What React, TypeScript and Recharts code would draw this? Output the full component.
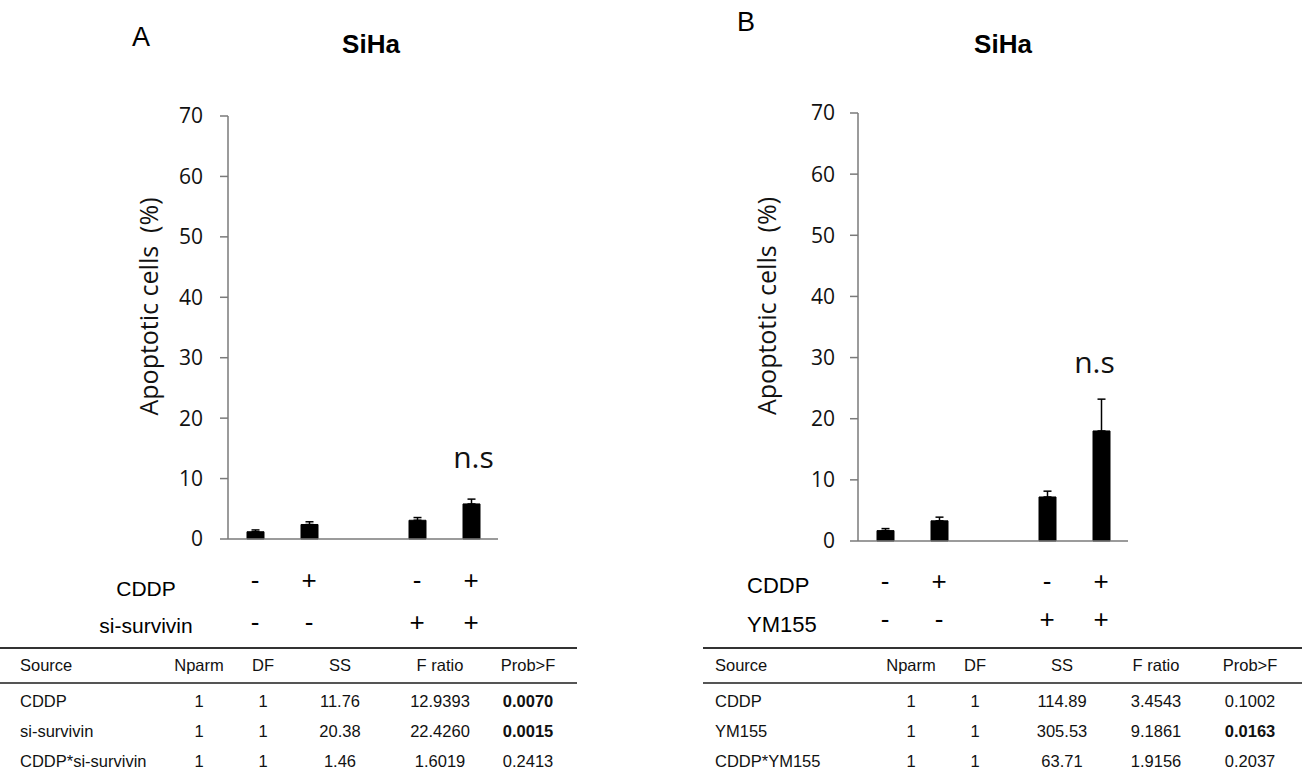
import { Bar, BarChart, ErrorBar, LabelList, XAxis, YAxis } from 'recharts'

// bar groups (third slot is the empty gap between the two pairs)
const categoriesA = ['Control', 'CDDP', '', 'si-survivin', 'CDDP + si-survivin']
const categoriesB = ['Control', 'CDDP', '', 'YM155', 'CDDP + YM155']

const yTicks = [0, 10, 20, 30, 40, 50, 60, 70]

// treatment signs under each bar
const cddpSigns = ['-', '+', '', '-', '+']
const agentSigns = ['-', '-', '', '+', '+']

// apoptotic cells (%), mean and upper error
const meansA = [1.2, 2.4, null, 3.1, 5.8]
const errorsA = [0.3, 0.45, null, 0.45, 0.8]
const meansB = [1.7, 3.3, null, 7.2, 18.0]
const errorsB = [0.33, 0.6, null, 0.95, 5.2]
const notes = ['', '', '', '', 'n.s']

// ANOVA tables
const tableHeader = ['Source', 'Nparm', 'DF', 'SS', 'F ratio', 'Prob>F']
const sourcesA = ['CDDP', 'si-survivin', 'CDDP*si-survivin']
const nparmA = ['1', '1', '1']
const dfA = ['1', '1', '1']
const ssA = ['11.76', '20.38', '1.46']
const fRatioA = ['12.9393', '22.4260', '1.6019']
const probA = ['0.0070', '0.0015', '0.2413']

const sourcesB = ['CDDP', 'YM155', 'CDDP*YM155']
const nparmB = ['1', '1', '1']
const dfB = ['1', '1', '1']
const ssB = ['114.89', '305.53', '63.71']
const fRatioB = ['3.4543', '9.1861', '1.9156']
const probB = ['0.1002', '0.0163', '0.2037']

const AXIS = '#7a7a7a'
const TICK_FONT = "'Open Sans', sans-serif"
const ARIAL = "'Liberation Sans', Arial, sans-serif"

type PanelProps = {
  left: number
  top: number
  height: number
  marginTop: number
  categories: string[]
  means: (number | null)[]
  errors: (number | null)[]
  tickGap: number
  labelX: number
  noteDx: number
  noteGap: number
  signRows: [number, number]
}

function Panel(p: PanelProps) {
  const data = p.categories.map((name, i) => ({
    name,
    mean: p.means[i],
    err: p.errors[i] == null ? null : [0, p.errors[i]],
    note: notes[i],
  }))

  const signTick = (props: any) => {
    const { x, y, index } = props
    return (
      <g fontFamily={ARIAL} fontSize={26} fill='#000' textAnchor='middle'>
        <text x={x} y={y + p.signRows[0]}>{cddpSigns[index]}</text>
        <text x={x} y={y + p.signRows[1]}>{agentSigns[index]}</text>
      </g>
    )
  }

  // place the note above the error bar cap, using the bar's own pixel scale
  const noteLabel = (props: any) => {
    const value = props.value
    if (!value) return null
    const i = notes.indexOf(value)
    const mean = p.means[i]
    const err = p.errors[i]
    if (mean == null || err == null) return null
    const vb = props.viewBox && props.viewBox.width != null ? props.viewBox : props
    const bx = Number(vb.x)
    const by = Number(vb.y)
    const bw = Number(vb.width)
    const bh = Number(vb.height)
    const h = Math.abs(bh)
    const top = Math.min(by, by + bh)
    const errTop = top - (err * h) / mean
    return (
      <text
        x={bx + bw / 2 + p.noteDx}
        y={errTop - p.noteGap}
        textAnchor='middle'
        fontFamily={TICK_FONT}
        fontSize={30}
        fill='#111'
      >
        {value}
      </text>
    )
  }

  const axisLabel = (props: any) => {
    const vb = props.viewBox
    const cx = vb.x + p.labelX
    const cy = vb.y + vb.height / 2 - 21
    return (
      <text
        x={cx}
        y={cy}
        transform={`rotate(-90, ${cx}, ${cy})`}
        textAnchor='middle'
        dominantBaseline='central'
        fontFamily={TICK_FONT}
        fontSize={25}
        fill='#111'
      >
        Apoptotic cells&#160;&#160;(%)
      </text>
    )
  }

  return (
    <div style={{ position: 'absolute', left: p.left, top: p.top }}>
      <BarChart
        width={408}
        height={p.height}
        data={data}
        margin={{ top: p.marginTop, right: 10, left: 0, bottom: 0 }}
      >
        <XAxis
          dataKey='name'
          height={110}
          interval={0}
          tickSize={0}
          tickMargin={0}
          tickLine={false}
          axisLine={{ stroke: AXIS, strokeWidth: 1.5 }}
          tick={signTick}
        />
        <YAxis
          domain={[0, 70]}
          ticks={yTicks}
          interval={0}
          width={128}
          tickSize={8}
          tickMargin={p.tickGap}
          axisLine={{ stroke: AXIS, strokeWidth: 1.5 }}
          tickLine={{ stroke: AXIS, strokeWidth: 1.5 }}
          tick={{ fill: '#111', fontSize: 21, fontFamily: TICK_FONT }}
          label={axisLabel}
        />
        <Bar dataKey='mean' fill='#000' stroke='#000' barSize={17} isAnimationActive={false}>
          <ErrorBar dataKey='err' width={4} stroke='#000' strokeWidth={1.5} isAnimationActive={false} />
          <LabelList dataKey='note' content={noteLabel} />
        </Bar>
      </BarChart>
    </div>
  )
}

type TableProps = {
  x0: number
  x1: number
  cols: number[]
  sources: string[]
  cells: string[][]
}

function AnovaTable({ x0, x1, cols, sources, cells }: TableProps) {
  const rowY = [707, 737, 767]
  return (
    <g fontFamily={ARIAL} fontSize={16.5} fill='#111'>
      <line x1={x0} x2={x1} y1={648} y2={648} stroke='#333' strokeWidth={2} />
      <line x1={x0} x2={x1} y1={683} y2={683} stroke='#555' strokeWidth={2} />
      {tableHeader.map((h, c) => (
        <text key={h} x={cols[c]} y={671} textAnchor={c === 0 ? 'start' : 'middle'}>
          {h}
        </text>
      ))}
      {sources.map((s, r) => (
        <g key={s}>
          <text x={cols[0]} y={rowY[r]}>{s}</text>
          {cells.map((col, c) => (
            <text
              key={c}
              x={cols[c + 1]}
              y={rowY[r]}
              textAnchor='middle'
              fontWeight={c === 4 && parseFloat(col[r]) < 0.05 ? 'bold' : 'normal'}
            >
              {col[r]}
            </text>
          ))}
        </g>
      ))}
    </g>
  )
}

export default function App() {
  return (
    <div
      style={{
        position: 'fixed',
        left: 0,
        top: 0,
        width: 1302,
        height: 775,
        background: '#fff',
        overflow: 'hidden',
      }}
    >
      <Panel
        left={100}
        top={90}
        height={559}
        marginTop={26}
        categories={categoriesA}
        means={meansA}
        errors={errorsA}
        tickGap={17}
        labelX={48}
        noteDx={2}
        noteGap={31}
        signRows={[50, 92]}
      />
      <Panel
        left={730}
        top={90}
        height={561}
        marginTop={23}
        categories={categoriesB}
        means={meansB}
        errors={errorsB}
        tickGap={15}
        labelX={36}
        noteDx={-7}
        noteGap={26}
        signRows={[49, 87]}
      />
      <svg
        width={1302}
        height={775}
        style={{ position: 'absolute', left: 0, top: 0, pointerEvents: 'none' }}
      >
        <g fontFamily={ARIAL} fill='#000'>
          <text x={132} y={46} fontSize={27}>A</text>
          <text x={737} y={31} fontSize={27}>B</text>
          <text x={371} y={53} fontSize={26} fontWeight='bold' textAnchor='middle'>SiHa</text>
          <text x={1003} y={53} fontSize={26} fontWeight='bold' textAnchor='middle'>SiHa</text>
          <text x={146} y={596} fontSize={21} textAnchor='middle'>CDDP</text>
          <text x={146} y={633} fontSize={21} textAnchor='middle'>si-survivin</text>
          <text x={747} y={593} fontSize={22}>CDDP</text>
          <text x={747} y={632} fontSize={22}>YM155</text>
        </g>
        <AnovaTable
          x0={0}
          x1={577}
          cols={[20, 199, 263, 340, 440, 528]}
          sources={sourcesA}
          cells={[nparmA, dfA, ssA, fRatioA, probA]}
        />
        <AnovaTable
          x0={703}
          x1={1302}
          cols={[715, 911, 975, 1062, 1156, 1250]}
          sources={sourcesB}
          cells={[nparmB, dfB, ssB, fRatioB, probB]}
        />
      </svg>
    </div>
  )
}
